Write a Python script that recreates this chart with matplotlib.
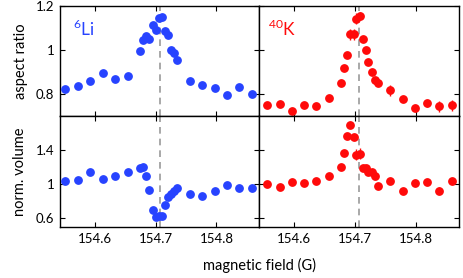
import numpy as np
import matplotlib
matplotlib.use("Agg")
import matplotlib.pyplot as plt
import matplotlib.ticker as ticker

plt.rcParams['font.family'] = ['Lato', 'DejaVu Sans']
plt.rcParams['mathtext.fontset'] = 'custom'
plt.rcParams['mathtext.rm'] = 'Lato'

# 6Li data
li_field = [154.552, 154.573, 154.593, 154.614, 154.634, 154.654, 154.674, 154.680,
            154.685, 154.690, 154.695, 154.700, 154.705, 154.711, 154.716, 154.721,
            154.726, 154.731, 154.736, 154.756, 154.777, 154.797, 154.818, 154.837,
            154.858]
li_aspect = [0.824, 0.837, 0.860, 0.896, 0.870, 0.884, 0.994, 1.044,
             1.062, 1.050, 1.114, 1.090, 1.144, 1.149, 1.087, 1.066,
             0.999, 0.985, 0.953, 0.857, 0.842, 0.827, 0.795, 0.833,
             0.798]
li_aspect_err = [0.008, 0.008, 0.008, 0.01, 0.008, 0.012, 0.008, 0.008,
                 0.008, 0.008, 0.008, 0.008, 0.008, 0.008, 0.008, 0.008,
                 0.008, 0.008, 0.008, 0.008, 0.008, 0.008, 0.008, 0.008,
                 0.012]
li_volume = [1.039, 1.050, 1.149, 1.067, 1.097, 1.141, 1.188, 1.200,
             1.097, 0.937, 0.699, 0.621, 0.629, 0.629, 0.754, 0.848,
             0.883, 0.922, 0.961, 0.890, 0.863, 0.922, 0.996, 0.957,
             0.961]

# 40K data
k_field = [154.556, 154.577, 154.597, 154.617, 154.637, 154.657, 154.677, 154.682,
           154.687, 154.692, 154.698, 154.702, 154.708, 154.713, 154.718, 154.722,
           154.728, 154.733, 154.738, 154.758, 154.778, 154.798, 154.818, 154.838,
           154.859]
k_aspect = [0.749, 0.755, 0.723, 0.752, 0.746, 0.780, 0.852, 0.919,
            0.979, 1.072, 1.072, 1.143, 1.155, 1.051, 0.999, 0.944,
            0.899, 0.865, 0.850, 0.816, 0.776, 0.735, 0.758, 0.744,
            0.749]
k_aspect_err = [0.008, 0.01, 0.01, 0.008, 0.008, 0.01, 0.01, 0.01,
                0.012, 0.025, 0.025, 0.025, 0.02, 0.012, 0.01, 0.01,
                0.01, 0.01, 0.01, 0.025, 0.01, 0.01, 0.015, 0.025,
                0.025]
k_volume = [1.000, 0.965, 1.023, 1.020, 1.043, 1.094, 1.207, 1.367,
            1.571, 1.695, 1.551, 1.348, 1.360, 1.195, 1.195, 1.141,
            1.149, 1.098, 0.980, 1.039, 0.922, 1.012, 1.031, 0.926,
            1.035]
k_volume_err = [0.015, 0.015, 0.015, 0.015, 0.015, 0.015, 0.015, 0.015,
                0.02, 0.02, 0.02, 0.06, 0.06, 0.02, 0.02, 0.02,
                0.02, 0.02, 0.02, 0.02, 0.02, 0.02, 0.02, 0.04,
                0.02]

resonance = 154.707
blue = '#2743ff'
red = '#ff0a0a'

fig = plt.figure(figsize=(4.64, 2.78), dpi=100)
W, H = 464, 278
def box(x0, y0, x1, y1):
    return [x0 / W, 1 - y1 / H, (x1 - x0) / W, (y1 - y0) / H]

ax_li_a = fig.add_axes(box(60, 6, 259, 116))
ax_k_a = fig.add_axes(box(259, 6, 459, 116))
ax_li_v = fig.add_axes(box(60, 116, 259, 227))
ax_k_v = fig.add_axes(box(259, 116, 459, 227))

ax_li_a.errorbar(li_field, li_aspect, yerr=li_aspect_err, fmt='o', color=blue,
                 ms=5.3, elinewidth=1, capsize=0, zorder=3)
ax_li_v.errorbar(li_field, li_volume, yerr=0.01, fmt='o', color=blue,
                 ms=5.3, elinewidth=1, capsize=0, zorder=3)
ax_k_a.errorbar(k_field, k_aspect, yerr=k_aspect_err, fmt='o', color=red,
                ms=5.3, elinewidth=1, capsize=0, zorder=3)
ax_k_v.errorbar(k_field, k_volume, yerr=k_volume_err, fmt='o', color=red,
                ms=5.3, elinewidth=1, capsize=0, zorder=3)

for ax in [ax_li_a, ax_k_a, ax_li_v, ax_k_v]:
    ax.set_xlim(154.543, 154.870)
    ax.axvline(resonance, color='#999999', lw=1.2, ls=(0, (4, 3)), zorder=1)
    ax.xaxis.set_major_locator(ticker.MultipleLocator(0.1))
    ax.xaxis.set_major_formatter(ticker.FormatStrFormatter('%.1f'))
    ax.tick_params(direction='in', top=True, right=True, length=3.5, width=0.8,
                   labelsize=9.5, pad=4)
    for s in ax.spines.values():
        s.set_linewidth(1.0)

for ax in [ax_li_a, ax_k_a]:
    ax.set_ylim(0.7, 1.2)
    ax.set_yticks([0.8, 1.0, 1.2])
    ax.yaxis.set_major_formatter(ticker.FuncFormatter(lambda v, p: '%g' % round(v, 2)))
    ax.tick_params(labelbottom=False)
for ax in [ax_li_v, ax_k_v]:
    ax.set_ylim(0.5, 1.8)
    ax.set_yticks([0.6, 1.0, 1.4])
    ax.yaxis.set_major_formatter(ticker.FuncFormatter(lambda v, p: '%g' % round(v, 2)))
for ax in [ax_k_a, ax_k_v]:
    ax.tick_params(labelleft=False)

ax_li_a.set_ylabel('aspect ratio', fontsize=10.5, labelpad=6)
ax_li_v.set_ylabel('norm. volume', fontsize=10.5, labelpad=6)
fig.text(260 / W, 1 - 265 / H, 'magnetic field (G)', ha='center', va='center', fontsize=10.5)

ax_li_a.text(0.065, 0.73, r'$^{6}$Li', transform=ax_li_a.transAxes, color=blue, fontsize=12.5)
ax_k_a.text(0.045, 0.73, r'$^{40}$K', transform=ax_k_a.transAxes, color=red, fontsize=12.5)

fig.savefig('out.png', dpi=100)
